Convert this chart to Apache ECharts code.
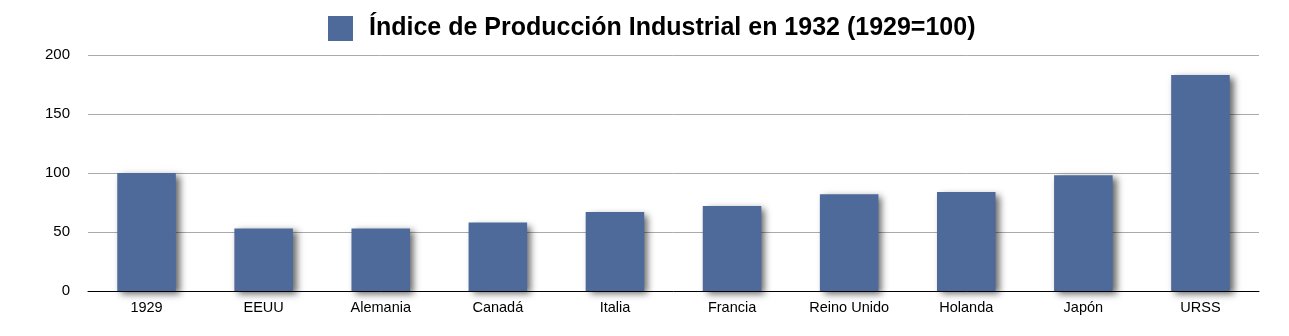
<!DOCTYPE html>
<html>
<head>
<meta charset="utf-8">
<script src="https://cdn.jsdelivr.net/npm/echarts@6/dist/echarts.min.js"></script>
<style>html,body{margin:0;padding:0;background:#fff}#c{width:1289px;height:336px}</style>
</head>
<body>
<div id="c"></div>
<script>
const categories = ['1929','EEUU','Alemania','Canadá','Italia','Francia','Reino Unido','Holanda','Japón','URSS'];
const values = [100, 53, 53, 58, 67, 72, 82, 84, 98, 183];
const seriesName = 'Índice de Producción Industrial en 1932 (1929=100)';

const chart = echarts.init(document.getElementById('c'));
chart.setOption({
  animation: false,
  backgroundColor: '#fff',
  legend: {
    top: 11,
    left: 323,
    itemWidth: 25,
    itemHeight: 25,
    itemGap: 10,
    icon: 'rect',
    textStyle: { fontFamily: 'Liberation Sans', fontSize: 25, fontWeight: 'bold', color: '#000', padding: [0,0,0,11] },
    data: [seriesName]
  },
  grid: { left: 88, right: 30, top: 55, bottom: 45, containLabel: false },
  xAxis: {
    type: 'category',
    data: categories,
    axisLine: { lineStyle: { color: '#000', width: 1 } },
    axisTick: { show: false },
    axisLabel: { fontFamily: 'Liberation Sans', fontSize: 14.5, color: '#000', margin: 9 }
  },
  yAxis: {
    type: 'value',
    min: 0, max: 200, interval: 50,
    axisLine: { show: false },
    axisTick: { show: false },
    axisLabel: { fontFamily: 'Liberation Sans', fontSize: 15, color: '#000', margin: 18 },
    splitLine: { lineStyle: { color: '#aaaaaa', width: 1 } }
  },
  series: [{
    name: seriesName,
    type: 'bar',
    data: values,
    barWidth: '50%',
    itemStyle: {
      color: '#4e6a9b',
      shadowColor: 'rgba(0,0,0,0.6)',
      shadowBlur: 7,
      shadowOffsetX: 4,
      shadowOffsetY: 3
    }
  }]
});
</script>
</body>
</html>
